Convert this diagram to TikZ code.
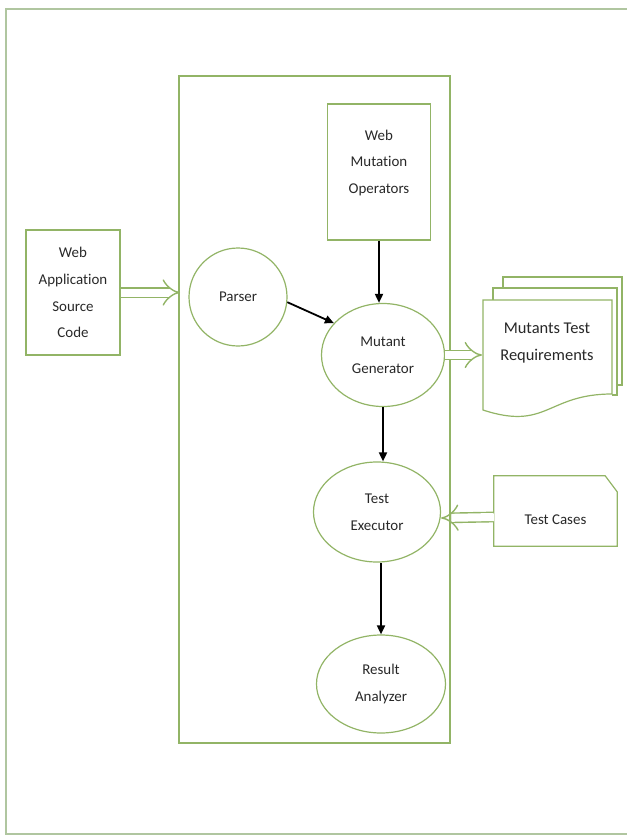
\documentclass[tikz,border=0pt]{standalone}
\usepackage{fontspec}
\setmainfont{Carlito}[Ligatures=NoCommon]
\usetikzlibrary{shapes.geometric,arrows.meta,positioning}

\definecolor{boxgreen}{RGB}{146,180,102}
\definecolor{framegreen}{RGB}{176,198,160}
\definecolor{inkgray}{RGB}{40,40,40}

\tikzset{
  txt/.style={font=\fontsize{15}{27}\selectfont, text=inkgray},
  box/.style={draw=boxgreen, line width=1.2bp, align=center, inner sep=0pt},
  oval/.style={box, ellipse},
  flow/.style={line width=1.8bp, -{Triangle[length=9bp,width=8bp]}},
  hollow/.style={draw=boxgreen, double, double distance=8bp, line width=1.4bp, -{Implies[scale=1.3]}},
}

\begin{document}
\begin{tikzpicture}[x=1bp, y=-1bp, txt]
  \useasboundingbox (0,0) rectangle (627,837);

  % Outer frame (runs off the right edge)
  \draw[framegreen, line width=1.2bp] (6,9) rectangle (640,834);

  % Tool boundary
  \draw[boxgreen, line width=1.4bp] (179,76) rectangle (450,743);

  % Boxes and process ovals
  \node[box, minimum width=94bp, minimum height=125bp] (src) at (73,292.5) {Web\\Application\\Source\\Code};
  \node[box, minimum width=103bp, minimum height=136bp,
        label={[align=center, yshift=9bp]center:Web\\Mutation\\Operators}] (wmo) at (379,172) {};
  \node[box, circle, minimum size=98bp] (parser) at (238,297) {Parser};
  \node[oval, minimum width=123bp, minimum height=103bp] (mgen) at (383,355) {Mutant\\Generator};
  \node[oval, minimum width=127bp, minimum height=100bp] (texec) at (377,512) {Test\\Executor};
  \node[oval, minimum width=129bp, minimum height=98bp] (ranal) at (381,684) {Result\\Analyzer};

  % Mutants test requirements (multidocument)
  \draw[boxgreen, line width=1.2bp] (503,288) -- (503,277) -- (622,277) -- (622,385) -- (617,385);
  \draw[boxgreen, line width=1.2bp] (493,300) -- (493,288) -- (617,288) -- (617,395) -- (612,395);
  \draw[boxgreen, line width=1.2bp, fill=white] (483,300) -- (612,300) -- (612,394)
    .. controls (547,394) and (547,431) .. (483,410) -- cycle;
  \node[align=center, font=\fontsize{16.5}{27}\selectfont] (mtr) at (547,343) {Mutants Test\\Requirements};
  \coordinate (mtrin) at (482,355);

  % Test cases (card)
  \node[minimum width=123bp, minimum height=70bp, inner sep=0pt,
        label={[yshift=-9bp]center:Test Cases}] (tcases) at (555.5,511) {};
  \draw[box] (tcases.south west) -- (tcases.north west) -- ([xshift=-12bp]tcases.north east)
    -- ([yshift=-16bp]tcases.north east) -- (tcases.south east) -- cycle;

  \coordinate (toolin) at (180,292.5);

  % Connectors
  \draw[hollow] (src.east) -- (toolin);
  \draw[hollow] (mgen.east) -- (mtrin);
  \draw[hollow] ([yshift=-6bp]tcases.west) -- ([yshift=-6bp]texec.east);

  \draw[flow] (wmo.south) -- (wmo.south |- mgen.north);
  \draw[flow] (parser.-6) -- (mgen.147);
  \draw[flow] (mgen.south) -- (mgen.south |- texec.north);
  \draw[flow] (texec.south -| ranal.north) -- (ranal.north);
\end{tikzpicture}
\end{document}
